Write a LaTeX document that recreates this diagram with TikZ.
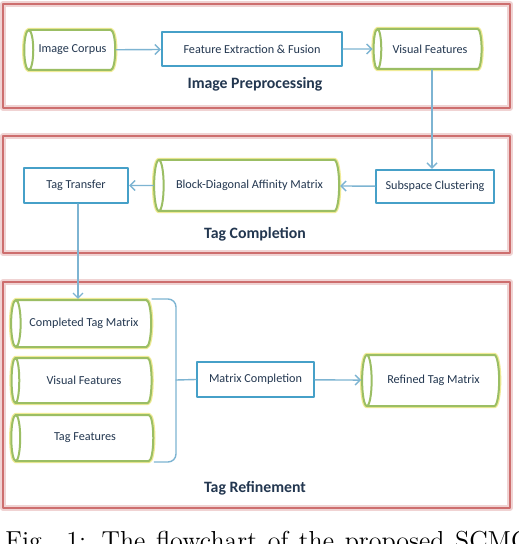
\documentclass[tikz,border=0pt]{standalone}
\usepackage{fontspec}
\setmainfont{Carlito}
\newfontfamily\capfont{Latin Modern Roman}
\usetikzlibrary{shapes.geometric,arrows.meta}
\definecolor{panelred}{RGB}{205,110,110}
\definecolor{procblue}{RGB}{70,160,200}
\definecolor{cylgreen}{RGB}{155,190,100}
\definecolor{cylyellow}{RGB}{240,235,150}
\definecolor{flowblue}{RGB}{125,180,210}
\definecolor{txt}{RGB}{35,55,80}

\begin{document}
\begin{tikzpicture}[x=0.5pt, y=-0.5pt, >={Straight Barb[length=2.5pt,width=5pt]}, line join=round, line cap=round,
	panel/.style={draw=panelred, line width=1.1pt, preaction={draw=panelred!30, line width=2.6pt}},
	proc/.style={rectangle, draw=procblue, line width=1.1pt, fill=white, text=txt, font=\fontsize{6.1}{7}\selectfont, inner sep=0pt},
	store/.style={cylinder, shape border rotate=180, aspect=0.9, draw=cylgreen, line width=1pt, fill=white,
		preaction={draw=cylyellow, line width=2.2pt}, text=txt, font=\fontsize{6.1}{7}\selectfont, inner sep=0pt},
	flow/.style={->, draw=flowblue, line width=0.7pt},
	title/.style={text=txt, font=\bfseries\fontsize{7.9}{9}\selectfont}]
	\clip (0,0) rectangle (518,544);
	\fill[white] (0,0) rectangle (518,544);
	% panels
	\draw[panel] (3,4) rectangle (510,108);
	\draw[panel] (3,136) rectangle (510,253);
	\draw[panel] (3,282) rectangle (510,508);
	\node[title] (t1) at (255,84) {Image Preprocessing};
	\node[title] (t2) at (255,234) {Tag Completion};
	\node[title] (t3) at (255,488) {Tag Refinement};
	% image preprocessing
	\node[store, minimum height=45.5pt, minimum width=20pt] (IC) at (72.5,50) {Image Corpus};
	\node[proc, minimum width=90pt, minimum height=17pt] (FE) at (252,49) {Feature Extraction \& Fusion};
	\node[store, minimum height=54pt, minimum width=20pt] (VF) at (430,49) {Visual Features};
	% tag completion
	\node[proc, minimum width=52pt, minimum height=17.5pt] (TT) at (76,185.5) {Tag Transfer};
	\node[store, minimum height=92.5pt, minimum width=25.5pt] (BD) at (249.5,185.5) {Block-Diagonal Affinity Matrix};
	\node[proc, minimum width=59pt, minimum height=16.5pt] (SC) at (435,186.5) {Subspace Clustering};
	% tag refinement
	\node[store, minimum height=70pt, minimum width=23.5pt] (CT) at (84,323.5) {Completed Tag Matrix};
	\node[store, minimum height=70pt, minimum width=22.5pt] (VS) at (84,380.5) {Visual Features};
	\node[store, minimum height=71pt, minimum width=23pt] (TF) at (85,438) {Tag Features};
	\node[proc, minimum width=58.5pt, minimum height=17.5pt] (MC) at (255.5,379.5) {Matrix Completion};
	\node[store, minimum height=68.5pt, minimum width=25.5pt] (RT) at (433.5,380.5) {Refined Tag Matrix};
	\coordinate (J) at (176,380);
	% connectors
	\draw[flow] (IC) -- (FE);
	\draw[flow] (FE) -- (VF);
	\draw[flow] (VF.south -| 432,0) -- (SC.north -| 432,0);
	\draw[flow] (SC) -- (BD);
	\draw[flow] (BD) -- (TT);
	\draw[flow] (TT.south -| 78,0) -- (CT.north -| 78,0);
	\draw[flow, -, rounded corners=4pt] (CT.east |- CT.north) -| (J) |- (TF.east |- TF.south);
	\draw[flow, -] (J) -- (MC.west);
	\draw[flow] (MC) -- (RT);
	% caption
	\node[anchor=base west, inner sep=0pt, font=\capfont\fontsize{13}{15}\selectfont] (cap) at (5,549)
		{\makebox[262pt][s]{Fig. 1: The flowchart of the proposed SCMC}};
\end{tikzpicture}
\end{document}
